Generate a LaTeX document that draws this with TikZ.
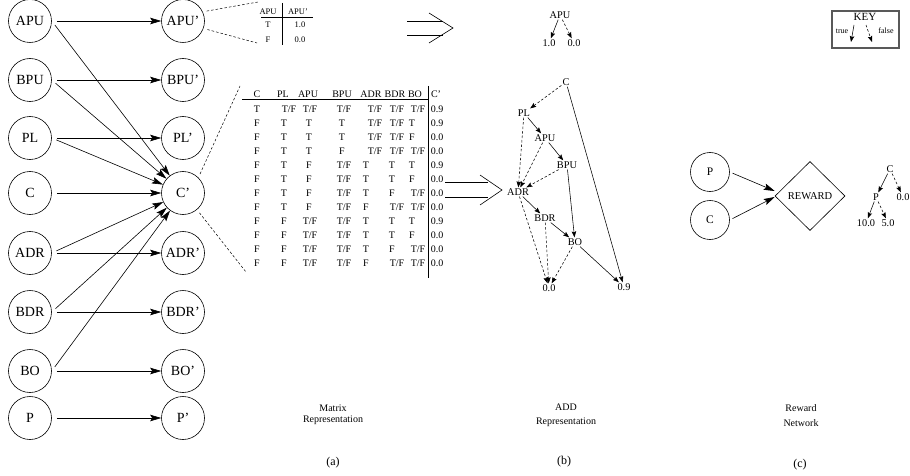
\documentclass[tikz,border=0pt]{standalone}
\usepackage{fontspec}
\setmainfont{Liberation Serif}
\usetikzlibrary{arrows.meta,shapes.geometric}
\begin{document}
\begin{tikzpicture}[x=1pt,y=-1pt,
  state/.style={circle,draw,line width=0.6pt,minimum size=43pt,inner sep=0pt,font=\fontsize{14}{14}\selectfont},
  rstate/.style={circle,draw,line width=0.6pt,minimum size=39pt,inner sep=0pt,font=\fontsize{11.5}{11.5}\selectfont},
  bigarr/.style={-{Stealth[length=11pt,width=6.5pt,inset=2pt]},line width=0.6pt,shorten <=5pt},
  dline/.style={line width=0.5pt,dash pattern=on 2.5pt off 2pt},
  tab/.style={inner sep=0pt,font=\fontsize{10}{10}\selectfont},
  sm/.style={inner sep=0pt,font=\fontsize{8.5}{8.5}\selectfont},
  dd/.style={inner sep=1pt,font=\fontsize{10.3}{10.3}\selectfont},
  tru/.style={-{Stealth[length=6pt,width=4.5pt,inset=1pt]},line width=0.55pt},
  fls/.style={-{Stealth[length=6pt,width=4.5pt,inset=1pt]},line width=0.55pt,dash pattern=on 2.5pt off 2pt},
  rulel/.style={line width=0.6pt},
  lbl/.style={inner sep=0pt,font=\fontsize{10}{10}\selectfont},
  capt/.style={inner sep=0pt,font=\fontsize{12}{12}\selectfont}
]
\useasboundingbox (0,0) rectangle (910,476);

% ---------- (a) dynamic network ----------
\node[state] (APU) at (30,21) {APU};
\node[state] (BPU) at (30,80) {BPU};
\node[state] (PL)  at (30,138) {PL};
\node[state] (C)   at (30,193) {C};
\node[state] (ADR) at (30,253) {ADR};
\node[state] (BDR) at (30,312) {BDR};
\node[state] (BO)  at (30,371) {BO};
\node[state] (P)   at (30,418) {P};
\node[state] (APUn) at (183,21) {APU'};
\node[state] (BPUn) at (183,80) {BPU'};
\node[state] (PLn)  at (183,138) {PL'};
\node[state] (Cn)   at (183,193) {C'};
\node[state] (ADRn) at (183,253) {ADR'};
\node[state] (BDRn) at (183,312) {BDR'};
\node[state] (BOn)  at (183,371) {BO'};
\node[state] (Pn)   at (183,418) {P'};
\foreach \n in {APU,BPU,PL,C,ADR,BDR,BO,P}
  \draw[bigarr] (\n.east) -- (\n n.west);
\foreach \n in {APU,BPU,PL,ADR,BDR,BO}
  \draw[bigarr] (\n.east) -- (Cn);

% dashed leaders
\coordinate (t1a) at (258,2);
\coordinate (t1b) at (257,43);
\coordinate (t2a) at (240,86);
\coordinate (t2b) at (246,272);
\draw[dline,shorten <=4pt] (APUn.25) -- (t1a);
\draw[dline,shorten <=4pt] (APUn.-20) -- (t1b);
\draw[dline,shorten <=4pt] (Cn.45) -- (t2a);
\draw[dline,shorten <=4pt] (Cn.-50) -- (t2b);

% small table
\node[sm] (sh1) at (268,12) {APU};
\node[sm] (sh2) at (298,12) {APU'};
\node[sm] (sT)  at (268,25) {T};
\node[sm] (s10) at (300,25) {1.0};
\node[sm] (sF)  at (268,40) {F};
\node[sm] (s00) at (300,40) {0.0};
\coordinate (su1) at (261,17); \coordinate (su2) at (313,17);
\coordinate (sv1) at (282,3);  \coordinate (sv2) at (282,45);
\draw[line width=0.5pt] (su1) -- (su2);
\draw[line width=0.7pt] (sv1) -- (sv2);

% big table
\foreach \h/\x [count=\i] in {C/257,PL/283,APU/308,BPU/342,ADR/371,BDR/395,BO/415,C'/436}
  \node[tab] (h-\i) at (\x,94) {\h};
\def\TF{T/F}
\def\xsingle{{257,284,309,342,366,392,412,437}}
\def\xtf{{257,289,310,344,375,397,418,437}}
\foreach \row [count=\r] in {
  {T,T/F,T/F,T/F,T/F,T/F,T/F,0.9},
  {F,T,T,T,T/F,T/F,T,0.9},
  {F,T,T,T,T/F,T/F,F,0.0},
  {F,T,T,F,T/F,T/F,T/F,0.0},
  {F,T,F,T/F,T,T,T,0.9},
  {F,T,F,T/F,T,T,F,0.0},
  {F,T,F,T/F,T,F,T/F,0.0},
  {F,T,F,T/F,F,T/F,T/F,0.0},
  {F,F,T/F,T/F,T,T,T,0.9},
  {F,F,T/F,T/F,T,T,F,0.0},
  {F,F,T/F,T/F,T,F,T/F,0.0},
  {F,F,T/F,T/F,F,T/F,T/F,0.0}} {
  \foreach \e [count=\c] in \row {
    \edef\tmp{\e}
    \ifx\tmp\TF
      \pgfmathsetmacro\xx{\xtf[\c-1]}
    \else
      \pgfmathsetmacro\xx{\xsingle[\c-1]}
    \fi
    \pgfmathsetmacro\yy{109+(\r-1)*14}
    \node[tab] (m-\r-\c) at (\xx,\yy) {\e};
  }
}
\coordinate (bu1) at (242,99); \coordinate (bu2) at (428,99);
\coordinate (bv1) at (428,86); \coordinate (bv2) at (428,278);
\draw[line width=0.5pt] (bu1) -- (bu2);
\draw[line width=0.8pt] (bv1) -- (bv2);

% big implication arrows
\coordinate (i1a) at (407,21); \coordinate (i1b) at (443,21);
\coordinate (i1c) at (407,35); \coordinate (i1d) at (443,35);
\coordinate (i1e) at (429,13); \coordinate (i1f) at (453,28); \coordinate (i1g) at (429,43);
\draw[rulel] (i1a) -- (i1b); \draw[rulel] (i1c) -- (i1d);
\draw[rulel] (i1e) -- (i1f) -- (i1g);
\coordinate (i2a) at (445,182); \coordinate (i2b) at (488,182);
\coordinate (i2c) at (445,197); \coordinate (i2d) at (488,197);
\coordinate (i2e) at (480,175); \coordinate (i2f) at (502,190); \coordinate (i2g) at (480,205);
\draw[rulel] (i2a) -- (i2b); \draw[rulel] (i2c) -- (i2d);
\draw[rulel] (i2e) -- (i2f) -- (i2g);

% ---------- (b) ADDs ----------
\node[dd] (aAPU) at (560,15) {APU};
\node[dd] (a10)  at (549,43) {1.0};
\node[dd] (a00)  at (574,43) {0.0};
\draw[tru] (aAPU) -- (a10);
\draw[fls] (aAPU) -- (a00);

\node[dd] (bC)   at (566,82)  {C};
\node[dd] (bPL)  at (524,113) {PL};
\node[dd] (bAPU) at (545,138) {APU};
\node[dd] (bBPU) at (567,165) {BPU};
\node[dd] (bADR) at (518,192) {ADR};
\node[dd] (bBDR) at (545,218) {BDR};
\node[dd] (bBO)  at (575,242) {BO};
\node[dd] (b00)  at (549,288) {0.0};
\node[dd] (b09)  at (624,287) {0.9};
\draw[fls] (bC) -- (bPL);
\draw[tru] (bC) -- (b09);
\draw[tru] (bPL) -- (bAPU);
\draw[fls] (bPL) -- (bADR);
\draw[tru] (bAPU) -- (bBPU);
\draw[fls] (bAPU) -- (bADR);
\draw[fls] (bBPU) -- (bADR);
\draw[tru] (bBPU) -- (bBO);
\draw[tru] (bADR) -- (bBDR);
\draw[fls] (bADR) -- (b00);
\draw[tru] (bBDR) -- (bBO);
\draw[fls] (bBDR) -- (b00);
\draw[fls] (bBO) -- (b00);
\draw[tru] (bBO) -- (b09);

% key
\node[draw=black!65,line width=1.1pt,minimum width=67pt,minimum height=37pt,inner sep=0pt] (key) at (865.5,29.5) {};
\node[inner sep=0pt,font=\fontsize{11}{11}\selectfont] (keyt) at (865,17) {KEY};
\node[inner sep=0pt,font=\fontsize{8}{8}\selectfont] (ktrue) at (842,31) {true};
\node[inner sep=0pt,font=\fontsize{8}{8}\selectfont] (kfalse) at (886,31) {false};
\coordinate (k1s) at (854,25); \coordinate (k1e) at (851,42);
\coordinate (k2s) at (866,25); \coordinate (k2e) at (872,42);
\draw[tru] (k1s) -- (k1e);
\draw[fls] (k2s) -- (k2e);

% ---------- (c) reward network ----------
\node[rstate] (rP) at (710,172) {P};
\node[rstate] (rC) at (710,220) {C};
\node[diamond,draw,line width=0.6pt,minimum width=70pt,minimum height=69pt,inner sep=0pt,font=\fontsize{10.5}{10.5}\selectfont] (rR) at (810,196) {REWARD};
\draw[bigarr,shorten <=3pt] (rP.east) -- ([yshift=5pt]rR.west);
\draw[bigarr,shorten <=3pt] (rC.east) -- ([yshift=-1pt]rR.west);

\node[dd] (tC)  at (890,169) {C};
\node[dd] (tP)  at (876,197) {P};
\node[dd] (t00) at (903,197) {0.0};
\node[dd] (t10) at (866,223) {10.0};
\node[dd] (t5)  at (888,223) {5.0};
\draw[tru] (tC) -- (tP);
\draw[fls] (tC) -- (t00);
\draw[tru] (tP) -- (t10);
\draw[fls] (tP) -- (t5);

% ---------- captions ----------
\node[lbl] (l1a) at (333,408) {Matrix};
\node[lbl] (l1b) at (333,420) {Representation};
\node[lbl] (l2a) at (566,407) {ADD};
\node[lbl] (l2b) at (566,422) {Representation};
\node[lbl] (l3a) at (801,408) {Reward};
\node[lbl] (l3b) at (801,423) {Network};
\node[capt] (ca) at (333,463) {(a)};
\node[capt] (cb) at (564,462) {(b)};
\node[capt] (cc) at (800,465) {(c)};
\end{tikzpicture}
\end{document}
